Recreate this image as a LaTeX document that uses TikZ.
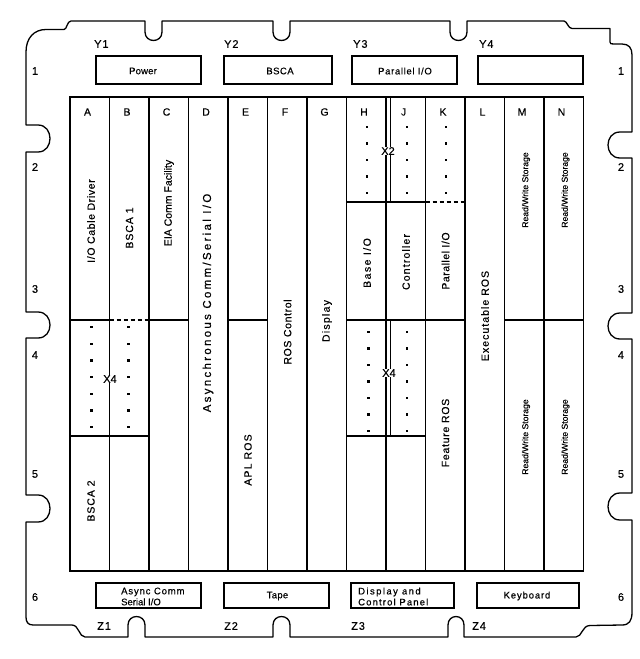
\documentclass[tikz,border=0pt]{standalone}
\usepackage{fontspec}
\setmainfont{Liberation Sans}[FakeBold=0.4]
\newcommand\LS[2]{{\addfontfeature{LetterSpace=#1}#2}}
\tikzset{
  edge/.style={line width=1.3pt, line join=round},
  gridline/.style={line width=1.2pt},
  thk/.style={line width=2pt},
  thinl/.style={line width=0.6pt},
  dsh/.style={line width=1.2pt, dash pattern=on 4pt off 3pt},
  vlab/.style={rotate=90, font=\fontsize{10.5}{11}\selectfont, inner sep=0pt},
  rws/.style={rotate=90, font=\fontsize{8.6}{9}\selectfont, inner sep=0pt},
  boxlab/.style={font=\fontsize{9.5}{11}\selectfont, inner sep=0pt},
  slot/.style={draw, line width=1.2pt, inner sep=0pt},
  dotm/.style={fill, inner sep=0pt, minimum size=2.2pt},
  xlab/.style={fill=white, inner sep=0.6pt, font=\fontsize{11}{11}\selectfont},
  num/.style={font=\fontsize{11}{11}\selectfont, inner sep=0pt},
  colhead/.style={font=\fontsize{10.5}{10.5}\selectfont, inner sep=0pt},
  yz/.style={font=\fontsize{11}{11}\selectfont, inner sep=0pt, anchor=west},
}
\begin{document}
\begin{tikzpicture}[x=1pt,y=-1pt]
\useasboundingbox (0,0) rectangle (640,659);
% board outline
\draw[edge]
 (26,52) .. controls (26,38) and (34,29.5) .. (46,29.5)
 -- (64,29.5) .. controls (67,29.5) and (67,21) .. (71,21)
 -- (145,21) -- (145,32) .. controls (145,43.3) and (162,43.3) .. (162,32) -- (162,21)
 -- (273,21) -- (273,32) .. controls (273,43.3) and (290,43.3) .. (290,32) -- (290,21)
 -- (450,21) -- (450,32) .. controls (450,43.3) and (467,43.3) .. (467,32) -- (467,21)
 -- (564,21) .. controls (567,21) and (568,28.5) .. (572,28.5)
 -- (610,28.5) -- (610,42) .. controls (610,44) and (611,44) .. (614,44)
 -- (622,44) .. controls (629,44) and (632,48) .. (632,55)
 -- (632,132) -- (620,132) .. controls (604,132) and (604,158) .. (620,158) -- (632,158)
 -- (632,313) -- (620,313) .. controls (604,313) and (604,339) .. (620,339) -- (632,339)
 -- (632,493) -- (620,493) .. controls (604,493) and (604,520) .. (620,520) -- (632,520)
 -- (632,612) .. controls (632,621) and (629,625) .. (622,625)
 -- (590,625.5) .. controls (582,625.5) and (582,637) .. (576,637)
 -- (464,637) -- (464,625) .. controls (464,613.7) and (448,613.7) .. (448,625) -- (448,637)
 -- (290,637) -- (290,625) .. controls (290,613.7) and (273,613.7) .. (273,625) -- (273,637)
 -- (145,637) -- (145,625) .. controls (145,613.7) and (128,613.7) .. (128,625) -- (128,637)
 -- (85,637) .. controls (79,637) and (79,625) .. (72,625)
 -- (33,625) .. controls (28,625) and (26,622) .. (26,617)
 -- (26,522) -- (38,522) .. controls (54,522) and (54,495) .. (38,495) -- (26,495)
 -- (26,338) -- (38,338) .. controls (54,338) and (54,312) .. (38,312) -- (26,312)
 -- (26,152) -- (38,152) .. controls (54,152) and (54,125) .. (38,125) -- (26,125)
 -- cycle;
% row numbers
\foreach \n/\yy in {1/71,2/167,3/289,4/355,5/474,6/597}{
  \node[num] (l\n) at (35,\yy) {\n};
  \node[num] (r\n) at (621,\yy) {\n};
}
% top slots
\node[yz] (y1l) at (94,44) {\LS{8}{Y1}};
\node[yz] (y2l) at (224,44) {\LS{8}{Y2}};
\node[yz] (y3l) at (353,44) {\LS{8}{Y3}};
\node[yz] (y4l) at (479,44) {\LS{8}{Y4}};
\node[slot, minimum width=105pt, minimum height=28pt] (y1) at (148.5,70) {};
\node[slot, minimum width=108pt, minimum height=28pt] (y2) at (278,70) {};
\node[slot, minimum width=105pt, minimum height=28pt] (y3) at (404.5,70) {};
\node[slot, minimum width=105pt, minimum height=28pt] (y4) at (530.5,70) {};
\node[boxlab] (y1t) at (143,71) {\LS{2}{Power}};
\node[boxlab] (y2t) at (280,71) {\LS{5}{BSCA}};
\node[boxlab] (y3t) at (405,71) {\LS{7}{Parallel I/O}};
% bottom slots
\node[slot, minimum width=105pt, minimum height=25pt] (z1) at (148.5,595.5) {};
\node[slot, minimum width=105pt, minimum height=25pt] (z2) at (276.5,595.5) {};
\node[slot, minimum width=103pt, minimum height=25pt] (z3) at (402.5,595.5) {};
\node[slot, minimum width=102pt, minimum height=25pt] (z4) at (528,595.5) {};
\node[boxlab, anchor=west, align=left] (z1t) at (121,596.5) {\LS{9}{Async Comm}\\Serial I/O};
\node[boxlab] (z2t) at (277.5,596) {\LS{3}{Tape}};
\node[boxlab, anchor=west, align=left] (z3t) at (358,596.5) {\LS{15}{Display and}\\\LS{12}{Control Panel}};
\node[boxlab] (z4t) at (527,596) {\LS{9}{Keyboard}};
\node[yz] (z1l) at (97,626) {\LS{8}{Z1}};
\node[yz] (z2l) at (224,626) {\LS{8}{Z2}};
\node[yz] (z3l) at (351,626) {\LS{8}{Z3}};
\node[yz] (z4l) at (472,626) {\LS{8}{Z4}};
% card grid
\draw[gridline] (70,97) rectangle (583.5,571);
\foreach \i in {1,...,12}{
  \draw[gridline] ({70+39.5*\i},97) -- ({70+39.5*\i},571);
}
\draw[thinl] (390,97) -- (390,202);
\draw[thinl] (390,320) -- (390,436);
% horizontal dividers
\draw[gridline] (70,320) -- (109.5,320);
\draw[dsh] (109.5,320) -- (149,320);
\draw[gridline] (149,320) -- (188.5,320);
\draw[thk] (228,320) -- (267.5,320);
\draw[thk] (346.5,320) -- (425.5,320);
\draw[gridline] (425.5,320) -- (465,320);
\draw[gridline] (504.5,320) -- (583.5,320);
\draw[gridline] (70,436) -- (149,436);
\draw[thk] (346.5,436) -- (425.5,436);
\draw[thk] (346.5,202) -- (425.5,202);
\draw[dsh] (425.5,202) -- (465,202);
% column letters
\foreach \c/\k in {A/0,B/1,C/2,D/3,E/4,F/5,G/6,H/7,J/8,K/9,L/10,M/11,N/12}{
  \node[colhead] (h\c) at ({87.5+39.5*\k},112) {\c};
}
% dots
\foreach \k in {0,...,6}{
  \node[dotm] (da\k) at (91.5,{327+16.7*\k}) {};
  \node[dotm] (db\k) at (128.5,{327+16.7*\k}) {};
  \node[dotm] (dh\k) at (368.5,{332+16.5*\k}) {};
  \node[dotm] (dj\k) at (407,{332+16.5*\k}) {};
}
\foreach \k in {0,...,4}{
  \node[dotm] (uh\k) at (367,{127+16.5*\k}) {};
  \node[dotm] (uj\k) at (407,{127+16.5*\k}) {};
  \node[dotm] (uk\k) at (446,{127+16.5*\k}) {};
}
\node[xlab] (x4a) at (110,379) {X4};
\node[xlab] (x2) at (388,151) {X2};
\node[xlab] (x4h) at (389,373) {X4};
% rotated labels
\node[vlab] (tA) at (91,221) {\LS{6}{I/O Cable Driver}};
\node[vlab] (tB) at (129.5,228) {\LS{9}{BSCA 1}};
\node[vlab] (tC) at (169,203) {EIA Comm Facility};
\node[vlab, font=\fontsize{11.5}{12}\selectfont] (tD) at (208,303) {\LS{20}{Asynchronous Comm/Serial I/O}};
\node[vlab] (tE) at (248,460) {\LS{11}{APL ROS}};
\node[vlab] (tF) at (287.5,332) {\LS{6}{ROS Control}};
\node[vlab] (tG) at (327,321) {\LS{12}{Display}};
\node[vlab] (tH) at (367,263) {\LS{14}{Base I/O}};
\node[vlab] (tJ) at (406,262) {\LS{11}{Controller}};
\node[vlab] (tK) at (445.5,261) {\LS{5}{Parallel I/O}};
\node[vlab] (tL) at (485,316) {\LS{10}{Executable ROS}};
\node[rws] (tM1) at (526,190) {Read/Write Storage};
\node[rws] (tN1) at (565.5,190) {Read/Write Storage};
\node[rws] (tM2) at (526,437) {Read/Write Storage};
\node[rws] (tN2) at (565.5,437) {Read/Write Storage};
\node[vlab] (tK2) at (445.5,433) {\LS{7}{Feature ROS}};
\node[vlab] (tA2) at (91,501) {\LS{9}{BSCA 2}};
\end{tikzpicture}
\end{document}
